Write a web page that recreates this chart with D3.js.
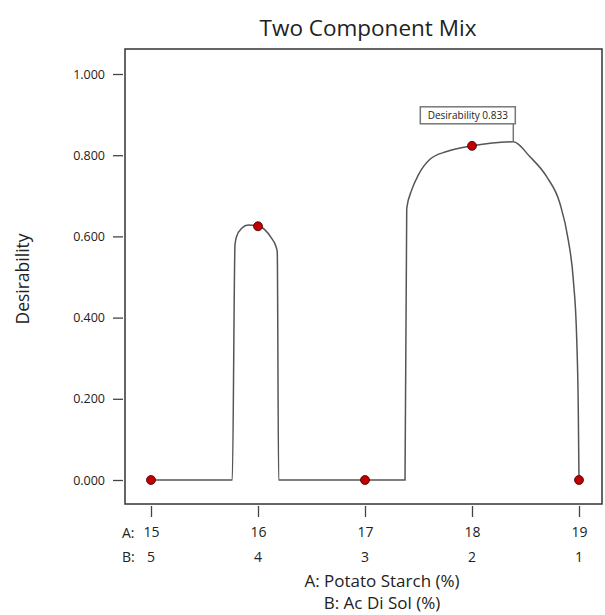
<!DOCTYPE html>
<html>
<head>
<meta charset="utf-8">
<script src="https://cdn.jsdelivr.net/npm/d3@7"></script>
<style>
  body { margin: 0; background: #fff; }
  svg text { font-family: "Open Sans", "Noto Sans", sans-serif; fill: #222; }
</style>
</head>
<body>
<div id="chart"></div>
<script>
// Data
var aTicks = [15, 16, 17, 18, 19];
var bTicks = [5, 4, 3, 2, 1];
var yTicks = [0, 0.2, 0.4, 0.6, 0.8, 1.0];

// design points (A: Potato Starch, desirability)
var pointA = [15, 16, 17, 18, 19];
var pointD = [0, 0.625, 0, 0.823, 0];

// desirability trace along the mix
var curveA = [15, 15.76, 15.785, 15.80, 15.848, 15.909, 16.003, 16.065, 16.128, 16.168, 16.180, 16.193,
  17.374, 17.390, 17.436, 17.498, 17.607, 17.764, 18.003, 18.386, 18.542, 18.698, 18.822, 18.900,
  18.947, 18.979, 18.993, 19.0];
var curveD = [0, 0, 0.579, 0.600, 0.620, 0.628, 0.626, 0.616, 0.595, 0.575, 0.562, 0,
  0, 0.669, 0.714, 0.751, 0.790, 0.809, 0.823, 0.833, 0.796, 0.747, 0.681, 0.591,
  0.493, 0.345, 0.181, 0];

var peakA = 18.386;
var peakD = 0.833;

var svgWidth = 605;
var svgHeight = 615;

var chartMargin = { top: 49, left: 125 };
var chartWidth = 477;
var chartHeight = 455;

var svg = d3.select("#chart")
  .append("svg")
  .attr("width", svgWidth)
  .attr("height", svgHeight);

var chartGroup = svg.append("g")
  .attr("transform", `translate(${chartMargin.left}, ${chartMargin.top})`);

var xScale = d3.scaleLinear().domain([15, 19]).range([26, 454]);
var yScale = d3.scaleLinear().domain([0, 1]).range([431, 25]);

// frame
chartGroup.append("rect")
  .attr("width", chartWidth)
  .attr("height", chartHeight)
  .attr("fill", "none")
  .attr("stroke", "#333")
  .attr("stroke-width", 1.5);

// y axis
var yAxis = d3.axisLeft(yScale)
  .tickValues(yTicks)
  .tickFormat(d3.format(".3f"))
  .tickSize(10)
  .tickPadding(8);

var yG = chartGroup.append("g")
  .attr("transform", "translate(-2,0)")
  .call(yAxis);
yG.select(".domain").remove();
yG.selectAll("line").attr("stroke", "#444").attr("stroke-width", 1.3);
yG.selectAll("text").attr("font-size", 12.5).attr("fill", "#333")
  .attr("font-family", "'Open Sans', sans-serif");

// x axis (A row)
var xAxis = d3.axisBottom(xScale)
  .tickValues(aTicks)
  .tickFormat(d3.format("d"))
  .tickSize(11)
  .tickPadding(10);

var xG = chartGroup.append("g")
  .attr("transform", `translate(0,${chartHeight + 2})`)
  .call(xAxis);
xG.select(".domain").remove();
xG.selectAll("line").attr("stroke", "#444").attr("stroke-width", 1.3);
xG.selectAll("text").attr("font-size", 14).attr("fill", "#333")
  .attr("font-family", "'Open Sans', sans-serif");

// B row
chartGroup.append("g").selectAll("text")
  .data(bTicks)
  .enter()
  .append("text")
  .attr("x", (d, i) => xScale(aTicks[i]))
  .attr("y", 513)
  .attr("text-anchor", "middle")
  .attr("font-size", 14)
  .attr("fill", "#333")
  .text(d => d);

chartGroup.append("text")
  .attr("x", -3).attr("y", 489)
  .attr("font-size", 14).attr("fill", "#333")
  .text("A:");
chartGroup.append("text")
  .attr("x", -3).attr("y", 513)
  .attr("font-size", 14).attr("fill", "#333")
  .text("B:");

// curve
var line = d3.line()
  .x((d, i) => xScale(curveA[i]))
  .y(d => yScale(d))
  .curve(d3.curveMonotoneX);

chartGroup.append("path")
  .datum(curveD)
  .attr("d", line)
  .attr("fill", "none")
  .attr("stroke", "#555")
  .attr("stroke-width", 1.5);

// annotation
var px = xScale(peakA), py = yScale(peakD);
chartGroup.append("line")
  .attr("x1", px).attr("x2", px)
  .attr("y1", py).attr("y2", py - 18)
  .attr("stroke", "#777").attr("stroke-width", 1.5);
chartGroup.append("rect")
  .attr("x", px - 93).attr("y", py - 35)
  .attr("width", 95).attr("height", 17)
  .attr("fill", "#fff")
  .attr("stroke", "#777")
  .attr("stroke-width", 1.5);
chartGroup.append("text")
  .attr("x", px - 45.5).attr("y", py - 23)
  .attr("text-anchor", "middle")
  .attr("font-size", 10)
  .attr("fill", "#222")
  .text("Desirability  0.833");

// design points
chartGroup.selectAll("circle")
  .data(pointD)
  .enter()
  .append("circle")
  .attr("cx", (d, i) => xScale(pointA[i]))
  .attr("cy", d => yScale(d))
  .attr("r", 4.5)
  .attr("fill", "#c00000")
  .attr("stroke", "#400")
  .attr("stroke-width", 0.8);

// titles
svg.append("text")
  .attr("x", 368).attr("y", 36)
  .attr("text-anchor", "middle")
  .attr("font-size", 22.5)
  .text("Two Component Mix");

svg.append("text")
  .attr("transform", "translate(29,279) rotate(-90)")
  .attr("text-anchor", "middle")
  .attr("font-size", 17.5)
  .text("Desirability");

svg.append("text")
  .attr("x", 382).attr("y", 587)
  .attr("text-anchor", "middle")
  .attr("font-size", 17)
  .text("A: Potato Starch (%)");

svg.append("text")
  .attr("x", 382).attr("y", 609)
  .attr("text-anchor", "middle")
  .attr("font-size", 17)
  .text("B: Ac Di Sol (%)");
</script>
</body>
</html>
